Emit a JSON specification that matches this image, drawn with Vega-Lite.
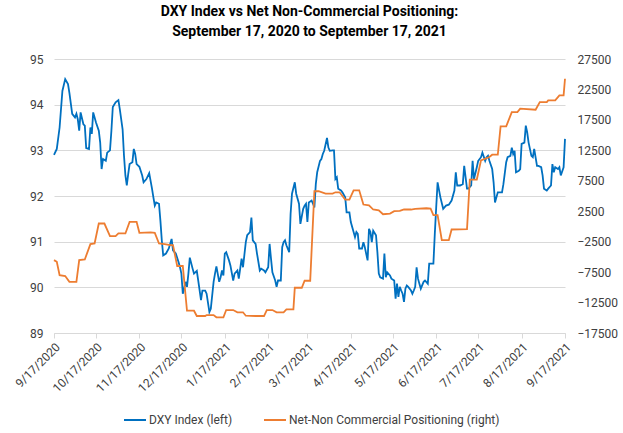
{
  "$schema": "https://vega.github.io/schema/vega-lite/v6.json",
  "width": 511,
  "height": 274,
  "autosize": {"type": "none"},
  "padding": {"left": 54, "top": 59, "right": 58, "bottom": 100},
  "background": "#ffffff",
  "title": {
    "text": ["DXY Index vs Net Non-Commercial Positioning:", "September 17, 2020 to September 17, 2021"],
    "font": "Roboto",
    "fontSize": 14,
    "fontWeight": "bold",
    "color": "#000000",
    "anchor": "middle",
    "lineHeight": 20,
    "offset": 14
  },
  "config": {
    "view": {"stroke": null},
    "font": "Roboto",
    "axis": {
      "labelFont": "Roboto",
      "labelFontSize": 12,
      "labelColor": "#404040",
      "title": null
    }
  },
  "datasets": {
    "dxy": [
      {"date":"2020-09-17","value":92.90},{"date":"2020-09-19","value":93.03},{"date":"2020-09-21","value":93.5},{"date":"2020-09-23","value":94.30},{"date":"2020-09-25","value":94.56},{"date":"2020-09-27","value":94.45},{"date":"2020-09-28","value":94.26},{"date":"2020-09-30","value":93.8},{"date":"2020-10-02","value":93.72},{"date":"2020-10-03","value":93.8},{"date":"2020-10-04","value":93.68},{"date":"2020-10-05","value":93.43},{"date":"2020-10-06","value":93.83},{"date":"2020-10-08","value":93.57},{"date":"2020-10-09","value":93.54},{"date":"2020-10-10","value":93.05},{"date":"2020-10-12","value":93.03},{"date":"2020-10-13","value":93.5},{"date":"2020-10-14","value":93.36},{"date":"2020-10-15","value":93.83},{"date":"2020-10-17","value":93.61},{"date":"2020-10-19","value":93.43},{"date":"2020-10-20","value":93.17},{"date":"2020-10-21","value":92.59},{"date":"2020-10-22","value":92.81},{"date":"2020-10-24","value":92.77},{"date":"2020-10-25","value":92.95},{"date":"2020-10-27","value":93.0},{"date":"2020-10-28","value":93.43},{"date":"2020-10-29","value":93.95},{"date":"2020-10-31","value":94.05},{"date":"2020-11-02","value":94.10},{"date":"2020-11-03","value":93.9},{"date":"2020-11-05","value":93.46},{"date":"2020-11-06","value":92.88},{"date":"2020-11-07","value":92.45},{"date":"2020-11-08","value":92.23},{"date":"2020-11-09","value":92.48},{"date":"2020-11-10","value":92.70},{"date":"2020-11-12","value":92.74},{"date":"2020-11-13","value":93.03},{"date":"2020-11-14","value":92.92},{"date":"2020-11-15","value":92.70},{"date":"2020-11-17","value":92.64},{"date":"2020-11-19","value":92.45},{"date":"2020-11-20","value":92.30},{"date":"2020-11-22","value":92.37},{"date":"2020-11-24","value":92.50},{"date":"2020-11-26","value":92.16},{"date":"2020-11-27","value":91.97},{"date":"2020-11-28","value":91.79},{"date":"2020-11-29","value":91.86},{"date":"2020-12-01","value":91.83},{"date":"2020-12-02","value":91.46},{"date":"2020-12-03","value":91.03},{"date":"2020-12-04","value":90.70},{"date":"2020-12-06","value":90.74},{"date":"2020-12-08","value":90.85},{"date":"2020-12-10","value":91.06},{"date":"2020-12-11","value":90.81},{"date":"2020-12-13","value":90.74},{"date":"2020-12-15","value":90.55},{"date":"2020-12-16","value":90.44},{"date":"2020-12-17","value":90.30},{"date":"2020-12-18","value":89.86},{"date":"2020-12-20","value":90.12},{"date":"2020-12-21","value":90.01},{"date":"2020-12-22","value":90.30},{"date":"2020-12-23","value":90.65},{"date":"2020-12-25","value":90.41},{"date":"2020-12-26","value":90.30},{"date":"2020-12-28","value":90.36},{"date":"2020-12-29","value":90.15},{"date":"2020-12-31","value":89.72},{"date":"2021-01-01","value":89.93},{"date":"2021-01-03","value":89.93},{"date":"2021-01-04","value":89.86},{"date":"2021-01-06","value":89.46},{"date":"2021-01-07","value":89.53},{"date":"2021-01-09","value":90.12},{"date":"2021-01-10","value":90.30},{"date":"2021-01-11","value":90.46},{"date":"2021-01-13","value":90.12},{"date":"2021-01-14","value":90.22},{"date":"2021-01-15","value":90.37},{"date":"2021-01-16","value":90.26},{"date":"2021-01-17","value":90.74},{"date":"2021-01-18","value":90.77},{"date":"2021-01-20","value":90.59},{"date":"2021-01-21","value":90.48},{"date":"2021-01-23","value":90.15},{"date":"2021-01-24","value":90.30},{"date":"2021-01-26","value":90.37},{"date":"2021-01-27","value":90.19},{"date":"2021-01-29","value":90.63},{"date":"2021-01-30","value":90.44},{"date":"2021-02-01","value":90.99},{"date":"2021-02-02","value":91.14},{"date":"2021-02-04","value":91.21},{"date":"2021-02-05","value":91.53},{"date":"2021-02-06","value":91.03},{"date":"2021-02-08","value":90.95},{"date":"2021-02-09","value":90.74},{"date":"2021-02-11","value":90.37},{"date":"2021-02-12","value":90.41},{"date":"2021-02-14","value":90.37},{"date":"2021-02-15","value":90.33},{"date":"2021-02-17","value":90.44},{"date":"2021-02-18","value":90.95},{"date":"2021-02-19","value":90.63},{"date":"2021-02-20","value":90.33},{"date":"2021-02-22","value":90.15},{"date":"2021-02-23","value":90.01},{"date":"2021-02-24","value":90.15},{"date":"2021-02-26","value":90.15},{"date":"2021-02-27","value":90.88},{"date":"2021-02-28","value":90.99},{"date":"2021-03-01","value":91.03},{"date":"2021-03-02","value":90.92},{"date":"2021-03-04","value":90.77},{"date":"2021-03-05","value":91.61},{"date":"2021-03-06","value":92.05},{"date":"2021-03-08","value":92.30},{"date":"2021-03-09","value":92.05},{"date":"2021-03-11","value":91.83},{"date":"2021-03-12","value":91.39},{"date":"2021-03-14","value":91.72},{"date":"2021-03-15","value":91.79},{"date":"2021-03-16","value":91.83},{"date":"2021-03-17","value":91.43},{"date":"2021-03-18","value":91.86},{"date":"2021-03-20","value":91.90},{"date":"2021-03-21","value":91.83},{"date":"2021-03-22","value":91.75},{"date":"2021-03-23","value":92.26},{"date":"2021-03-24","value":92.52},{"date":"2021-03-26","value":92.77},{"date":"2021-03-27","value":92.81},{"date":"2021-03-28","value":92.92},{"date":"2021-03-29","value":92.99},{"date":"2021-03-31","value":93.27},{"date":"2021-04-01","value":93.06},{"date":"2021-04-02","value":92.99},{"date":"2021-04-04","value":93.0},{"date":"2021-04-05","value":93.0},{"date":"2021-04-06","value":92.37},{"date":"2021-04-07","value":92.41},{"date":"2021-04-08","value":92.16},{"date":"2021-04-10","value":92.12},{"date":"2021-04-11","value":92.08},{"date":"2021-04-13","value":91.97},{"date":"2021-04-14","value":91.64},{"date":"2021-04-16","value":91.64},{"date":"2021-04-17","value":91.43},{"date":"2021-04-19","value":91.21},{"date":"2021-04-20","value":91.10},{"date":"2021-04-21","value":91.21},{"date":"2021-04-22","value":91.17},{"date":"2021-04-23","value":90.85},{"date":"2021-04-25","value":90.85},{"date":"2021-04-26","value":90.99},{"date":"2021-04-27","value":90.88},{"date":"2021-04-29","value":90.59},{"date":"2021-04-30","value":91.28},{"date":"2021-05-01","value":91.21},{"date":"2021-05-02","value":90.99},{"date":"2021-05-03","value":91.24},{"date":"2021-05-05","value":91.14},{"date":"2021-05-06","value":90.77},{"date":"2021-05-07","value":90.30},{"date":"2021-05-08","value":90.22},{"date":"2021-05-10","value":90.19},{"date":"2021-05-11","value":90.74},{"date":"2021-05-12","value":90.22},{"date":"2021-05-13","value":90.33},{"date":"2021-05-15","value":90.26},{"date":"2021-05-16","value":90.19},{"date":"2021-05-18","value":90.15},{"date":"2021-05-19","value":89.75},{"date":"2021-05-20","value":90.08},{"date":"2021-05-21","value":89.79},{"date":"2021-05-22","value":90.01},{"date":"2021-05-23","value":89.93},{"date":"2021-05-24","value":89.86},{"date":"2021-05-25","value":89.68},{"date":"2021-05-26","value":89.97},{"date":"2021-05-27","value":90.04},{"date":"2021-05-28","value":90.01},{"date":"2021-05-30","value":89.93},{"date":"2021-05-31","value":89.86},{"date":"2021-06-01","value":89.93},{"date":"2021-06-02","value":90.01},{"date":"2021-06-03","value":90.44},{"date":"2021-06-04","value":90.19},{"date":"2021-06-05","value":90.08},{"date":"2021-06-06","value":89.97},{"date":"2021-06-08","value":90.12},{"date":"2021-06-09","value":90.15},{"date":"2021-06-11","value":90.08},{"date":"2021-06-12","value":90.52},{"date":"2021-06-15","value":90.52},{"date":"2021-06-16","value":91.17},{"date":"2021-06-17","value":91.75},{"date":"2021-06-18","value":92.30},{"date":"2021-06-20","value":91.97},{"date":"2021-06-22","value":91.72},{"date":"2021-06-24","value":91.79},{"date":"2021-06-26","value":91.81},{"date":"2021-06-28","value":91.90},{"date":"2021-06-30","value":92.12},{"date":"2021-07-01","value":92.52},{"date":"2021-07-02","value":92.23},{"date":"2021-07-04","value":92.23},{"date":"2021-07-06","value":92.26},{"date":"2021-07-07","value":92.66},{"date":"2021-07-09","value":92.16},{"date":"2021-07-10","value":92.16},{"date":"2021-07-12","value":92.23},{"date":"2021-07-13","value":92.77},{"date":"2021-07-14","value":92.37},{"date":"2021-07-16","value":92.63},{"date":"2021-07-17","value":92.77},{"date":"2021-07-19","value":92.85},{"date":"2021-07-20","value":92.95},{"date":"2021-07-22","value":92.77},{"date":"2021-07-23","value":92.85},{"date":"2021-07-24","value":92.88},{"date":"2021-07-25","value":92.77},{"date":"2021-07-27","value":92.59},{"date":"2021-07-28","value":92.30},{"date":"2021-07-29","value":91.86},{"date":"2021-07-31","value":92.08},{"date":"2021-08-01","value":92.08},{"date":"2021-08-03","value":92.08},{"date":"2021-08-04","value":92.26},{"date":"2021-08-06","value":92.74},{"date":"2021-08-07","value":92.85},{"date":"2021-08-09","value":92.88},{"date":"2021-08-10","value":93.06},{"date":"2021-08-11","value":92.92},{"date":"2021-08-12","value":92.99},{"date":"2021-08-13","value":92.52},{"date":"2021-08-15","value":92.55},{"date":"2021-08-16","value":92.59},{"date":"2021-08-17","value":93.14},{"date":"2021-08-19","value":93.17},{"date":"2021-08-20","value":93.54},{"date":"2021-08-21","value":93.39},{"date":"2021-08-22","value":93.17},{"date":"2021-08-24","value":92.88},{"date":"2021-08-25","value":92.85},{"date":"2021-08-26","value":93.03},{"date":"2021-08-28","value":92.66},{"date":"2021-08-29","value":92.66},{"date":"2021-08-31","value":92.63},{"date":"2021-09-01","value":92.45},{"date":"2021-09-02","value":92.16},{"date":"2021-09-04","value":92.12},{"date":"2021-09-05","value":92.16},{"date":"2021-09-07","value":92.23},{"date":"2021-09-08","value":92.70},{"date":"2021-09-09","value":92.52},{"date":"2021-09-10","value":92.63},{"date":"2021-09-12","value":92.59},{"date":"2021-09-13","value":92.63},{"date":"2021-09-14","value":92.45},{"date":"2021-09-16","value":92.63},{"date":"2021-09-17","value":93.25}
    ],
    "pos": [
      {"date":"2020-09-17","value":-5530},{"date":"2020-09-19","value":-5810},{"date":"2020-09-21","value":-8000},{"date":"2020-09-25","value":-8150},{"date":"2020-09-28","value":-9100},{"date":"2020-10-03","value":-9100},{"date":"2020-10-05","value":-5530},{"date":"2020-10-09","value":-5420},{"date":"2020-10-13","value":-2900},{"date":"2020-10-16","value":-2800},{"date":"2020-10-19","value":480},{"date":"2020-10-23","value":480},{"date":"2020-10-27","value":-1600},{"date":"2020-10-31","value":-1600},{"date":"2020-11-02","value":-1150},{"date":"2020-11-07","value":-1150},{"date":"2020-11-10","value":750},{"date":"2020-11-15","value":750},{"date":"2020-11-17","value":-1050},{"date":"2020-11-25","value":-990},{"date":"2020-11-28","value":-1050},{"date":"2020-12-01","value":-2800},{"date":"2020-12-05","value":-2900},{"date":"2020-12-09","value":-3070},{"date":"2020-12-11","value":-3070},{"date":"2020-12-14","value":-6500},{"date":"2020-12-18","value":-6500},{"date":"2020-12-21","value":-13840},{"date":"2020-12-26","value":-13840},{"date":"2020-12-28","value":-14710},{"date":"2021-01-03","value":-14710},{"date":"2021-01-04","value":-14550},{"date":"2021-01-09","value":-14550},{"date":"2021-01-11","value":-14920},{"date":"2021-01-16","value":-14920},{"date":"2021-01-18","value":-13730},{"date":"2021-01-23","value":-13730},{"date":"2021-01-26","value":-14100},{"date":"2021-01-30","value":-14100},{"date":"2021-02-01","value":-14660},{"date":"2021-02-08","value":-14710},{"date":"2021-02-14","value":-14710},{"date":"2021-02-16","value":-13730},{"date":"2021-02-20","value":-13730},{"date":"2021-02-23","value":-14100},{"date":"2021-02-28","value":-14100},{"date":"2021-03-02","value":-13610},{"date":"2021-03-07","value":-13610},{"date":"2021-03-08","value":-10070},{"date":"2021-03-13","value":-10070},{"date":"2021-03-15","value":-8920},{"date":"2021-03-19","value":-8920},{"date":"2021-03-22","value":5780},{"date":"2021-03-25","value":5780},{"date":"2021-03-30","value":5400},{"date":"2021-04-04","value":5400},{"date":"2021-04-06","value":5610},{"date":"2021-04-09","value":5610},{"date":"2021-04-13","value":4420},{"date":"2021-04-16","value":4420},{"date":"2021-04-19","value":5940},{"date":"2021-04-23","value":5940},{"date":"2021-04-26","value":3600},{"date":"2021-04-30","value":3480},{"date":"2021-05-03","value":2780},{"date":"2021-05-07","value":2660},{"date":"2021-05-10","value":2010},{"date":"2021-05-15","value":2120},{"date":"2021-05-18","value":2500},{"date":"2021-05-22","value":2550},{"date":"2021-05-25","value":2780},{"date":"2021-05-30","value":2780},{"date":"2021-06-02","value":2880},{"date":"2021-06-10","value":2990},{"date":"2021-06-13","value":2940},{"date":"2021-06-15","value":1850},{"date":"2021-06-18","value":1850},{"date":"2021-06-21","value":-2250},{"date":"2021-06-26","value":-2250},{"date":"2021-06-28","value":-500},{"date":"2021-07-09","value":-450},{"date":"2021-07-11","value":7700},{"date":"2021-07-16","value":7700},{"date":"2021-07-19","value":10860},{"date":"2021-07-25","value":11400},{"date":"2021-07-27","value":11780},{"date":"2021-07-31","value":11780},{"date":"2021-08-02","value":16430},{"date":"2021-08-06","value":16430},{"date":"2021-08-10","value":18780},{"date":"2021-08-14","value":18780},{"date":"2021-08-16","value":19340},{"date":"2021-08-27","value":19170},{"date":"2021-08-30","value":20420},{"date":"2021-09-04","value":20420},{"date":"2021-09-05","value":20700},{"date":"2021-09-10","value":20700},{"date":"2021-09-13","value":21520},{"date":"2021-09-16","value":21520},{"date":"2021-09-17","value":24250}
    ]
  },
  "encoding": {
    "x": {
      "field": "date",
      "type": "temporal",
      "scale": {
        "type": "utc",
        "domain": [{"year": 2020, "month": 9, "date": 17, "utc": true}, {"year": 2021, "month": 9, "date": 17, "utc": true}]
      },
      "axis": {
        "values": [
          {"year": 2020, "month": 9, "date": 17, "utc": true},
          {"year": 2020, "month": 10, "date": 17, "utc": true},
          {"year": 2020, "month": 11, "date": 17, "utc": true},
          {"year": 2020, "month": 12, "date": 17, "utc": true},
          {"year": 2021, "month": 1, "date": 17, "utc": true},
          {"year": 2021, "month": 2, "date": 17, "utc": true},
          {"year": 2021, "month": 3, "date": 17, "utc": true},
          {"year": 2021, "month": 4, "date": 17, "utc": true},
          {"year": 2021, "month": 5, "date": 17, "utc": true},
          {"year": 2021, "month": 6, "date": 17, "utc": true},
          {"year": 2021, "month": 7, "date": 17, "utc": true},
          {"year": 2021, "month": 8, "date": 17, "utc": true},
          {"year": 2021, "month": 9, "date": 17, "utc": true}
        ],
        "labelExpr": "utcFormat(datum.value, '%-m/%-d/%Y')",
        "labelAngle": -45,
        "labelPadding": 3,
        "grid": false,
        "domainColor": "#D9D9D9",
        "tickColor": "#D9D9D9",
        "tickSize": 5,
        "labelOverlap": false,
        "labelBound": false,
        "labelFlush": false
      }
    }
  },
  "layer": [
    {
      "data": {"name": "dxy"},
      "mark": {"type": "line", "strokeWidth": 1.8, "interpolate": "linear"},
      "encoding": {
        "y": {
          "field": "value",
          "type": "quantitative",
          "scale": {"domain": [89, 95], "zero": false, "nice": false},
          "axis": {
            "orient": "left",
            "values": [89, 90, 91, 92, 93, 94, 95],
            "grid": true,
            "gridColor": "#D9D9D9",
            "domain": false,
            "ticks": false,
            "labelPadding": 11
          }
        },
        "color": {
          "datum": "DXY Index (left)",
          "type": "nominal",
          "scale": {
            "domain": ["DXY Index (left)", "Net-Non Commercial Positioning (right)"],
            "range": ["#0070C0", "#ED7D31"]
          },
          "legend": {
            "orient": "none",
            "legendX": 69,
            "legendY": 349,
            "direction": "horizontal",
            "title": null,
            "symbolType": "stroke",
            "symbolSize": 484,
            "symbolStrokeWidth": 2,
            "labelFont": "Roboto",
            "labelFontSize": 12,
            "labelColor": "#404040",
            "labelLimit": 400,
            "labelOffset": 2,
            "columnPadding": 27
          }
        }
      }
    },
    {
      "data": {"name": "pos"},
      "mark": {"type": "line", "strokeWidth": 1.8, "interpolate": "linear"},
      "encoding": {
        "y": {
          "field": "value",
          "type": "quantitative",
          "scale": {"domain": [-17500, 27500], "zero": false, "nice": false},
          "axis": {
            "orient": "right",
            "values": [-17500, -12500, -7500, -2500, 2500, 7500, 12500, 17500, 22500, 27500],
            "format": "d",
            "grid": false,
            "domain": false,
            "ticks": false,
            "labelPadding": 12
          }
        },
        "color": {"datum": "Net-Non Commercial Positioning (right)", "type": "nominal"}
      }
    }
  ],
  "resolve": {"scale": {"y": "independent"}}
}
